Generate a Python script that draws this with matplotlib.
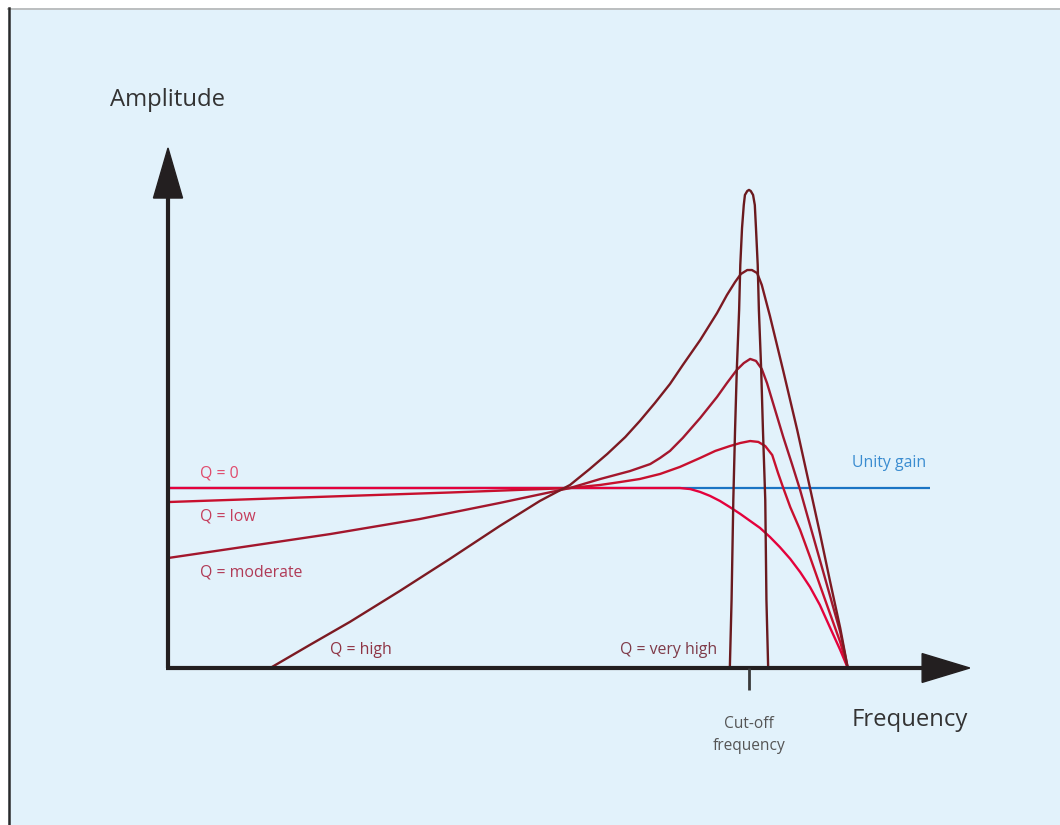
import matplotlib
matplotlib.use("Agg")
import matplotlib.pyplot as plt
from matplotlib.patches import Polygon, Rectangle
from matplotlib.lines import Line2D

# Frequency is expressed relative to the cut-off frequency (cut-off = 1.0),
# amplitude relative to unity gain (unity = 1.0).
q0_freq = [0.0, 0.881, 0.899, 0.916, 0.933, 0.950, 0.967, 0.985, 1.002, 1.019,
           1.036, 1.053, 1.071, 1.088, 1.105, 1.122, 1.139, 1.157, 1.170]
q0_amp = [1.0, 1.0, 0.994, 0.978, 0.956, 0.928, 0.894, 0.856, 0.817, 0.778,
          0.728, 0.672, 0.606, 0.533, 0.450, 0.350, 0.228, 0.100, 0.0]

qlow_freq = [0.0, 0.227, 0.485, 0.692, 0.744, 0.778, 0.812, 0.847, 0.881, 0.916,
             0.942, 0.967, 0.985, 1.002, 1.016, 1.028, 1.040, 1.050, 1.059, 1.071,
             1.088, 1.105, 1.122, 1.139, 1.157, 1.170]
qlow_amp = [0.922, 0.947, 0.975, 1.0, 1.017, 1.033, 1.050, 1.078, 1.117, 1.167,
            1.206, 1.233, 1.250, 1.261, 1.256, 1.233, 1.183, 1.083, 1.0, 0.894,
            0.767, 0.617, 0.461, 0.306, 0.144, 0.0]

qmod_freq = [0.0, 0.141, 0.279, 0.434, 0.571, 0.692, 0.744, 0.795, 0.830, 0.847,
             0.864, 0.886, 0.916, 0.945, 0.962, 0.979, 0.991, 1.002, 1.012, 1.022,
             1.031, 1.045, 1.059, 1.074, 1.088, 1.105, 1.122, 1.139, 1.157, 1.170]
qmod_amp = [0.611, 0.678, 0.744, 0.828, 0.917, 1.0, 1.050, 1.094, 1.133, 1.167,
            1.206, 1.278, 1.389, 1.506, 1.583, 1.656, 1.694, 1.717, 1.706, 1.661,
            1.583, 1.433, 1.283, 1.133, 0.989, 0.794, 0.600, 0.406, 0.200, 0.0]

qhigh_freq = [0.176, 0.244, 0.313, 0.399, 0.485, 0.571, 0.640, 0.692, 0.726, 0.756,
              0.787, 0.812, 0.838, 0.864, 0.886, 0.916, 0.945, 0.962, 0.976, 0.986,
              0.997, 1.005, 1.014, 1.022, 1.036, 1.059, 1.083, 1.105, 1.122, 1.139,
              1.157, 1.170]
qhigh_amp = [0.0, 0.128, 0.256, 0.428, 0.606, 0.789, 0.928, 1.017, 1.106, 1.189,
             1.283, 1.372, 1.472, 1.578, 1.683, 1.822, 1.972, 2.072, 2.144, 2.189,
             2.211, 2.211, 2.194, 2.128, 1.956, 1.650, 1.322, 1.0, 0.750, 0.489,
             0.222, 0.0]

qvhigh_freq = [0.967, 0.970, 0.973, 0.976, 0.979, 0.983, 0.985, 0.988, 0.991, 0.993,
               0.997, 1.0, 1.003, 1.007, 1.010, 1.012, 1.015, 1.017, 1.021, 1.024,
               1.028, 1.030, 1.033]
qvhigh_amp = [0.0, 0.378, 0.933, 1.322, 1.656, 1.989, 2.239, 2.444, 2.572, 2.628,
              2.650, 2.656, 2.650, 2.628, 2.572, 2.444, 2.239, 1.989, 1.656, 1.322,
              0.933, 0.378, 0.0]

unity_freq = [0.0, 1.311]
unity_amp = [1.0, 1.0]

curve_labels = ["Q = 0", "Q = low", "Q = moderate", "Q = high", "Q = very high"]

BG = "#E2F2FB"
AXIS = "#231F20"

fig = plt.figure(figsize=(10.6, 8.25), dpi=100)
fig.patch.set_facecolor("white")

# panel background and frame lines, kept beneath the drawing axes
fig.patches.append(Rectangle((8 / 1060, 0), 1 - 8 / 1060, 1 - 8 / 825,
                             transform=fig.transFigure, facecolor=BG,
                             edgecolor="none", zorder=-10))
fig.lines.append(Line2D([8 / 1060, 1], [1 - 8.5 / 825, 1 - 8.5 / 825],
                        transform=fig.transFigure, color="#B5B5B5", lw=1.2,
                        zorder=-9))
fig.lines.append(Line2D([8.5 / 1060, 8.5 / 1060], [0, 1 - 8 / 825],
                        transform=fig.transFigure, color="#2A2A2A", lw=1.8,
                        zorder=-9))

ax = fig.add_axes([0, 0, 1, 1])
ax.set_facecolor("none")
ax.patch.set_alpha(0)
ax.set_xlim(-168 / 581, 892 / 581)
ax.set_ylim(-157 / 180, 668 / 180)
ax.axis("off")

font = ["Open Sans", "DejaVu Sans"]

# unity gain reference
ax.plot(unity_freq, unity_amp, color="#1A74C4", lw=1.6, zorder=2,
        solid_capstyle="butt")

curves = [
    (q0_freq, q0_amp, "#E4023C"),
    (qlow_freq, qlow_amp, "#C8102E"),
    (qmod_freq, qmod_amp, "#A3172D"),
    (qhigh_freq, qhigh_amp, "#7C1A22"),
    (qvhigh_freq, qvhigh_amp, "#6A1A1E"),
]
for f, a, c in curves:
    ax.plot(f, a, color=c, lw=1.7, zorder=3, solid_joinstyle="round",
            solid_capstyle="round")

# axes with arrow heads
ax.plot([0, 0], [0, 2.62], color=AXIS, lw=3.0, zorder=4, solid_capstyle="butt")
ax.plot([-0.004, 1.30], [0, 0], color=AXIS, lw=3.0, zorder=4, solid_capstyle="butt")
ax.add_patch(Polygon([[0, 2.889], [-0.025, 2.611], [0.025, 2.611]],
                     closed=True, color=AXIS, zorder=4))
ax.add_patch(Polygon([[1.380, 0], [1.298, -0.080], [1.298, 0.080]],
                     closed=True, color=AXIS, zorder=4))
# cut-off tick
ax.plot([1.0, 1.0], [0, -0.12], color="#3A3A3A", lw=2.0, zorder=4,
        solid_capstyle="butt")

# axis titles
ax.text(-0.0998, 3.156, "Amplitude", family=font, fontsize=17.2,
        color="#333333", ha="left", va="center")
ax.text(1.177, -0.289, "Frequency", family=font, fontsize=17.2,
        color="#333333", ha="left", va="center")
ax.text(1.0, -0.372, "Cut-off\nfrequency", family=font, fontsize=11.2,
        color="#555555", ha="center", va="center", linespacing=1.45)

# curve labels
label_pos = [(0.055, 1.078), (0.055, 0.839), (0.055, 0.533), (0.279, 0.100),
             (0.778, 0.100)]
label_col = ["#E04A6C", "#C53D5C", "#B03A56", "#8F3444", "#7E3A48"]
for txt, (x, y), c in zip(curve_labels, label_pos, label_col):
    ax.text(x, y, txt, family=font, fontsize=11.4, color=c,
            ha="left", va="center")

ax.text(1.177, 1.139, "Unity gain", family=font, fontsize=11.4,
        color="#3A8CD0", ha="left", va="center")

fig.savefig("out.png", dpi=100, facecolor=fig.get_facecolor())
